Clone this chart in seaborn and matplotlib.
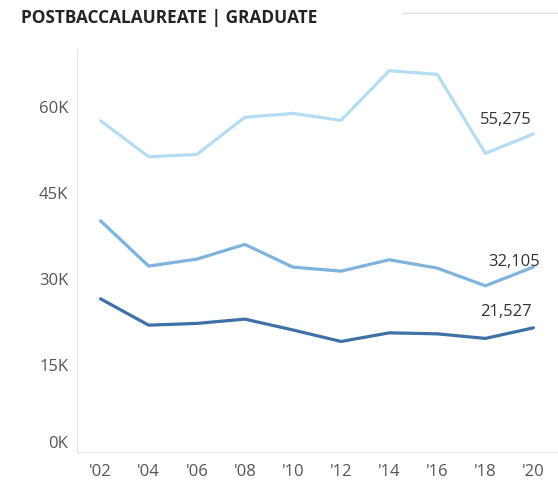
"""
plot.py — Postbaccalaureate | Graduate enrollment trend, 2002–2020.
Saves out.png (558x480).
"""

import matplotlib
matplotlib.use("Agg")
import matplotlib.pyplot as plt
from matplotlib.lines import Line2D
from matplotlib.ticker import FixedLocator, FuncFormatter
import pandas as pd
import seaborn as sns


# ── Data ───────────────────────────────────────────────────────────────────────
YEARS = ["'02", "'04", "'06", "'08", "'10", "'12", "'14", "'16", "'18", "'20"]
UPPER = [57570, 51300, 51700, 58160, 58850, 57630, 66270, 65640, 51890, 55275]
MIDDLE = [40150, 32270, 33480, 36040, 32090, 31390, 33370, 31920, 28840, 32105]
LOWER = [26570, 21990, 22290, 23040, 21150, 19150, 20650, 20480, 19680, 21527]
SERIES = ["upper", "middle", "lower"]
Y_TICKS = [0, 15000, 30000, 45000, 60000]

COLORS = {"upper": "#b4dcf2", "middle": "#7db3dc", "lower": "#3e72a6"}
TITLE = "POSTBACCALAUREATE | GRADUATE"
W, H = 558, 480


def build_frame() -> pd.DataFrame:
    rows = []
    for name, vals in zip(SERIES, [UPPER, MIDDLE, LOWER]):
        for yr, v in zip(YEARS, vals):
            rows.append({"year": yr, "value": v, "series": name})
    return pd.DataFrame(rows)


def main() -> None:
    sns.set_style("white")
    plt.rcParams["font.family"] = ["Open Sans", "DejaVu Sans"]

    df = build_frame()

    fig = plt.figure(figsize=(W / 100, H / 100), dpi=100)
    ax = fig.add_axes([76.5 / W, 1 - 451.5 / H, 481 / W, (451.5 - 49.3) / H])

    sns.lineplot(data=df, x="year", y="value", hue="series", hue_order=SERIES,
                 palette=COLORS, sort=False, lw=2.3, legend=False, ax=ax)

    # axes styling (Power BI-ish)
    ax.set_xlim(-0.5, len(YEARS) - 0.5)
    ax.set_ylim(0, 70000)
    ax.set_xlabel("")
    ax.set_ylabel("")
    for s in ["top", "right"]:
        ax.spines[s].set_visible(False)
    for s in ["left", "bottom"]:
        ax.spines[s].set_color("#e6e6e6")
        ax.spines[s].set_linewidth(0.8)

    ax.yaxis.set_major_locator(FixedLocator(Y_TICKS))
    ax.yaxis.set_major_formatter(FuncFormatter(lambda v, _: f"{v / 1000:.0f}K"))
    ax.tick_params(axis="y", length=3, width=0.8, color="#e0e0e0", pad=3,
                   labelsize=12, labelcolor="#555555")

    ax.xaxis.set_minor_locator(FixedLocator([i - 0.5 for i in range(len(YEARS))]))
    ax.tick_params(axis="x", which="major", length=0, pad=9,
                   labelsize=12, labelcolor="#555555")
    ax.tick_params(axis="x", which="minor", length=5, width=0.8,
                   color="#e0e0e0", direction="out")

    # the 0K label sits just above the baseline
    ax.get_yticklabels()[0].set_verticalalignment("bottom")

    # end-of-line data labels
    offsets = {"upper": (-2, 14), "middle": (7, 5), "lower": (-2, 16)}
    for name, vals in zip(SERIES, [UPPER, MIDDLE, LOWER]):
        ax.annotate(f"{vals[-1]:,}", xy=(YEARS[-1], vals[-1]),
                    xytext=offsets[name], textcoords="offset pixels",
                    ha="right", va="center", fontsize=12, color="#333333")

    fig.text(21 / W, 1 - 18 / H, TITLE, fontsize=12.4, fontweight="bold",
             color="#252423", ha="left", va="center")
    fig.add_artist(Line2D([402 / W, 1.0], [1 - 12.5 / H] * 2,
                          color="#e1e1e1", lw=1))

    fig.savefig("out.png", dpi=100)
    plt.close(fig)


if __name__ == "__main__":
    main()
